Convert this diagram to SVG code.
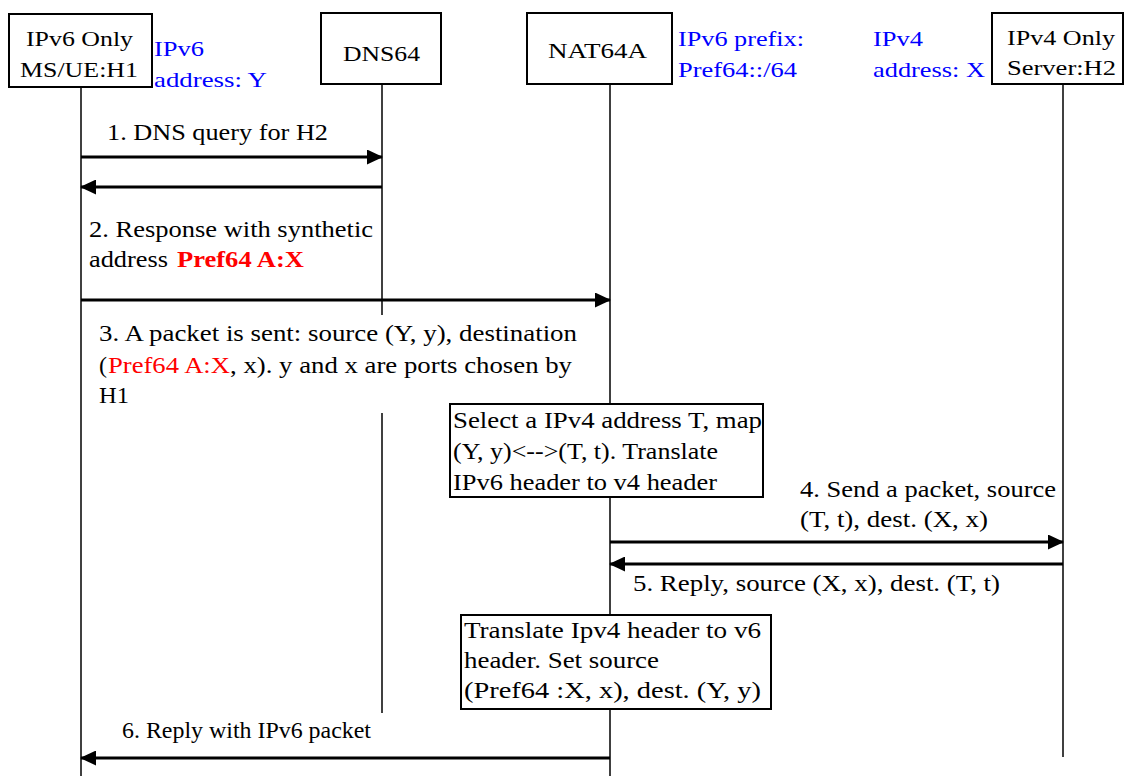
<svg xmlns="http://www.w3.org/2000/svg" width="1127" height="776" viewBox="0 0 1127 776">
<style>
text{font-family:"Liberation Serif","Times New Roman",serif;font-size:24px;fill:#000}
.hd{font-size:22px}
.blue{fill:#0000ff}
.red{fill:#ff0000}
.bold{font-weight:bold}
.box{fill:#fff;stroke:#000;stroke-width:2}
.life{stroke:#000;stroke-width:1.5;fill:none}
.msg{stroke:#000;stroke-width:3;fill:none}
</style>
<defs>
<marker id="ah" markerWidth="16" markerHeight="15" refX="15" refY="7.5" orient="auto" markerUnits="userSpaceOnUse">
<path d="M0,0 L16,7.5 L0,15 Z" fill="#000"/>
</marker>
</defs>
<g id="lifelines">
<line class="life" x1="81" y1="87" x2="81" y2="776"/>
<line class="life" x1="382" y1="84" x2="382" y2="315"/>
<line class="life" x1="382" y1="413" x2="382" y2="713"/>
<line class="life" x1="610" y1="84" x2="610" y2="776"/>
<line class="life" x1="1063" y1="84" x2="1063" y2="757"/>
</g>
<g id="H1">
<rect class="box" x="9" y="14" width="143" height="73"/>
<text class="hd" x="26" y="46" textLength="107" lengthAdjust="spacingAndGlyphs">IPv6 Only</text>
<text class="hd" x="20" y="77" textLength="118" lengthAdjust="spacingAndGlyphs">MS/UE:H1</text>
</g>
<g id="DNS64">
<rect class="box" x="321" y="13" width="120" height="71"/>
<text class="hd" x="343" y="61" textLength="77" lengthAdjust="spacingAndGlyphs">DNS64</text>
</g>
<g id="NAT64A">
<rect class="box" x="527" y="13" width="145" height="71"/>
<text class="hd" x="548" y="58" textLength="99" lengthAdjust="spacingAndGlyphs">NAT64A</text>
</g>
<g id="H2">
<rect class="box" x="992" y="13" width="131" height="71"/>
<text class="hd" x="1007" y="45" textLength="108" lengthAdjust="spacingAndGlyphs">IPv4 Only</text>
<text class="hd" x="1007" y="75" textLength="109" lengthAdjust="spacingAndGlyphs">Server:H2</text>
</g>
<g id="annotations">
<text class="hd blue" x="154" y="56" textLength="50" lengthAdjust="spacingAndGlyphs">IPv6</text>
<text class="hd blue" x="154" y="87" textLength="113" lengthAdjust="spacingAndGlyphs">address: Y</text>
<text class="hd blue" x="678" y="46" textLength="126" lengthAdjust="spacingAndGlyphs">IPv6 prefix:</text>
<text class="hd blue" x="678" y="77" textLength="119" lengthAdjust="spacingAndGlyphs">Pref64::/64</text>
<text class="hd blue" x="873" y="46" textLength="50" lengthAdjust="spacingAndGlyphs">IPv4</text>
<text class="hd blue" x="873" y="77" textLength="112" lengthAdjust="spacingAndGlyphs">address: X</text>
</g>
<g id="connectors">
<line class="msg" x1="81" y1="157" x2="382" y2="157" marker-end="url(#ah)"/>
<line class="msg" x1="382" y1="187" x2="81" y2="187" marker-end="url(#ah)"/>
<line class="msg" x1="81" y1="300" x2="610" y2="300" marker-end="url(#ah)"/>
<line class="msg" x1="610" y1="542" x2="1063" y2="542" marker-end="url(#ah)"/>
<line class="msg" x1="1063" y1="564" x2="610" y2="564" marker-end="url(#ah)"/>
<line class="msg" x1="610" y1="758" x2="81" y2="758" marker-end="url(#ah)"/>
</g>
<g id="labels">
<text x="107" y="140" textLength="221" lengthAdjust="spacingAndGlyphs">1. DNS query for H2</text>
<text x="89" y="237" textLength="284" lengthAdjust="spacingAndGlyphs">2. Response with synthetic</text>
<text x="89" y="267" textLength="79" lengthAdjust="spacingAndGlyphs">address</text>
<text class="red bold" x="177" y="267" textLength="127" lengthAdjust="spacingAndGlyphs">Pref64 A:X</text>
<text x="99" y="341" textLength="478" lengthAdjust="spacingAndGlyphs">3. A packet is sent: source (Y, y), destination</text>
<text x="99" y="373">(</text>
<text class="red" x="108" y="373" textLength="122" lengthAdjust="spacingAndGlyphs">Pref64 A:X</text>
<text x="230" y="373" textLength="342" lengthAdjust="spacingAndGlyphs">, x). y and x are ports chosen by</text>
<text x="99" y="403" textLength="30" lengthAdjust="spacingAndGlyphs">H1</text>
<text x="800" y="497" textLength="256" lengthAdjust="spacingAndGlyphs">4. Send a packet, source</text>
<text x="800" y="527" textLength="188" lengthAdjust="spacingAndGlyphs">(T, t), dest. (X, x)</text>
<text x="633" y="591" textLength="367" lengthAdjust="spacingAndGlyphs">5. Reply, source (X, x), dest. (T, t)</text>
<text x="122" y="738" textLength="249" lengthAdjust="spacingAndGlyphs">6. Reply with IPv6 packet</text>
</g>
<g id="note1">
<rect class="box" x="450" y="404" width="313" height="93"/>
<text x="453" y="428" textLength="309" lengthAdjust="spacingAndGlyphs">Select a IPv4 address T, map</text>
<text x="453" y="459" textLength="265" lengthAdjust="spacingAndGlyphs">(Y, y)&lt;--&gt;(T, t). Translate</text>
<text x="453" y="490" textLength="264" lengthAdjust="spacingAndGlyphs">IPv6 header to v4 header</text>
</g>
<g id="note2">
<rect class="box" x="461" y="615" width="310" height="94"/>
<text x="464" y="638" textLength="297" lengthAdjust="spacingAndGlyphs">Translate Ipv4 header to v6</text>
<text x="464" y="668" textLength="195" lengthAdjust="spacingAndGlyphs">header. Set source</text>
<text x="464" y="698" textLength="297" lengthAdjust="spacingAndGlyphs">(Pref64 :X, x), dest. (Y, y)</text>
</g>
</svg>
